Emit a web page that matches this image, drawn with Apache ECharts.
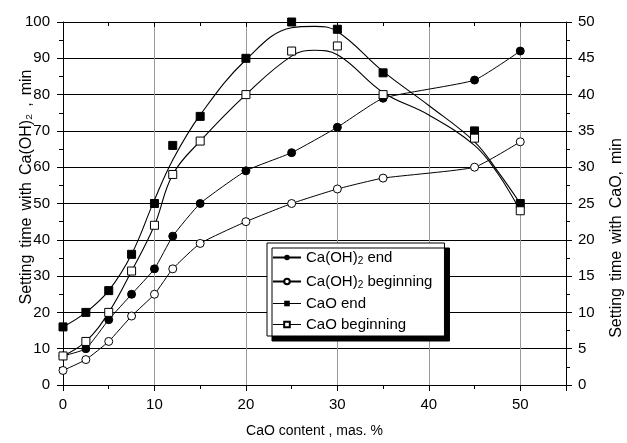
<!DOCTYPE html>
<html>
<head>
<meta charset="utf-8">
<script src="https://cdn.jsdelivr.net/npm/echarts@6/dist/echarts.min.js"></script>
<style>
html,body{margin:0;padding:0;background:#fff;}
#c{width:627px;height:443px;}
</style>
</head>
<body>
<div id="c"></div>
<script>
// CaO content (mas. %)
var xCaOH = [0, 2.5, 5, 7.5, 10, 12, 15, 20, 25, 30, 35, 45, 50];
// Setting time with Ca(OH)2, min (left axis)
var caohEnd = [8, 10, 18, 25, 32, 41, 50, 59, 64, 71, 79, 84, 92];
var caohBeg = [4, 7, 12, 19, 25, 32, 39, 45, 50, 54, 57, 60, 67];
// Setting time with CaO, min (right axis)
var xCaO = [0, 2.5, 5, 7.5, 10, 12, 15, 20, 25, 30, 35, 45, 50];
var caoEnd = [8, 10, 13, 18, 25, 33, 37, 45, 50, 49, 43, 35, 25];
var caoBeg = [4, 6, 10, 15.7, 22, 29, 33.6, 40, 46, 46.7, 40, 34, 24];
// fitted curves for CaO (right axis)
var xFit = [0, 2.5, 5, 7.5, 10, 12, 15, 20, 25, 27.5, 30, 35, 40, 45, 47.5, 50];
var caoEndFit = [8, 10, 13, 18, 25.5, 31, 37.2, 44.8, 49.2, 49.4, 48.7, 43.2, 38.5, 33.5, 29.5, 25];
var caoBegFit = [4, 6, 10, 15.7, 22, 29, 33.6, 40, 45.3, 46.1, 45.5, 40.3, 37.2, 33, 29.2, 24];
// ticks
var xTicks = {min: 0, max: 55, interval: 10};
var yLeftTicks = {min: 0, max: 100, interval: 10};
var yRightTicks = {min: 0, max: 50, interval: 5};

function zip(xs, ys) { return xs.map(function (x, i) { return [x, ys[i]]; }); }

var FONT = 'Liberation Sans';
var chart = echarts.init(document.getElementById('c'), null, {renderer: 'canvas'});

var rich = {
  a: {fontFamily: FONT, fontSize: 15, color: '#000', lineHeight: 17},
  s: {fontFamily: FONT, fontSize: 10, color: '#000', lineHeight: 17, verticalAlign: 'bottom', padding: [8, 0, 0, 0]}
};
var richTitle = {
  w: {fontFamily: FONT, fontSize: 16, color: '#000', padding: [0, 7, 0, 0]},
  a: {fontFamily: FONT, fontSize: 16, color: '#000'}
};

var option = {
  backgroundColor: '#fff',
  animation: false,
  grid: {left: 63, right: 61, top: 22, bottom: 51, containLabel: false},
  xAxis: [{
    type: 'value', position: 'bottom', min: xTicks.min, max: xTicks.max, interval: xTicks.interval,
    axisLine: {show: true, onZero: false, lineStyle: {color: '#000', width: 1}},
    axisTick: {show: true, inside: false, length: 6, lineStyle: {color: '#000'}},
    minorTick: {show: true, splitNumber: 2, length: 4, lineStyle: {color: '#000'}},
    splitLine: {show: true, lineStyle: {color: '#9a9a9a', width: 1}},
    axisLabel: {fontFamily: FONT, fontSize: 15, color: '#000', margin: 12, showMaxLabel: false},
    name: 'CaO content , mas. %', nameLocation: 'middle', nameGap: 39,
    nameTextStyle: {fontFamily: FONT, fontSize: 14, color: '#000'}
  }, {
    type: 'value', position: 'top', min: xTicks.min, max: xTicks.max, interval: xTicks.interval,
    axisLine: {show: true, onZero: false, lineStyle: {color: '#000', width: 1}},
    axisTick: {show: true, inside: true, length: 5, lineStyle: {color: '#000'}},
    minorTick: {show: true, splitNumber: 2, length: 4, lineStyle: {color: '#000'}},
    splitLine: {show: false}, axisLabel: {show: false}
  }],
  yAxis: [{
    type: 'value', position: 'left', min: yLeftTicks.min, max: yLeftTicks.max, interval: yLeftTicks.interval,
    axisLine: {show: true, onZero: false, lineStyle: {color: '#000', width: 1}},
    axisTick: {show: true, inside: false, length: 6, lineStyle: {color: '#000'}},
    minorTick: {show: true, splitNumber: 2, length: 4, lineStyle: {color: '#000'}},
    splitLine: {show: true, lineStyle: {color: '#000', width: 1}},
    axisLabel: {fontFamily: FONT, fontSize: 15, color: '#000', margin: 13}
  }, {
    type: 'value', position: 'right', min: yRightTicks.min, max: yRightTicks.max, interval: yRightTicks.interval,
    axisLine: {show: true, onZero: false, lineStyle: {color: '#000', width: 1}},
    axisTick: {show: true, inside: false, length: 6, lineStyle: {color: '#000'}},
    minorTick: {show: true, splitNumber: 2, length: 4, lineStyle: {color: '#000'}},
    splitLine: {show: false},
    axisLabel: {fontFamily: FONT, fontSize: 15, color: '#000', margin: 12}
  }],
  legend: {
    left: 267, top: 243, orient: 'vertical',
    backgroundColor: '#fff', borderColor: '#000', borderWidth: 1,
    padding: [5, 12, 4, 5], itemGap: 6, itemWidth: 28, itemHeight: 7,
    shadowColor: '#000', shadowBlur: 0, shadowOffsetX: 5, shadowOffsetY: 5,
    textStyle: {fontFamily: FONT, fontSize: 15, color: '#000', rich: rich},
    formatter: function (n) {
      if (n === 'Ca(OH)2 end') return '{a|Ca(OH)}{s|2}{a| end}';
      if (n === 'Ca(OH)2 beginning') return '{a|Ca(OH)}{s|2}{a| beginning}';
      return '{a|' + n + '}';
    },
    data: [
      {name: 'Ca(OH)2 end'},
      {name: 'Ca(OH)2 beginning'},
      {name: 'CaO end', lineStyle: {color: '#000', width: 1, opacity: 1}},
      {name: 'CaO beginning', lineStyle: {color: '#000', width: 1, opacity: 1}}
    ]
  },
  series: [{
    name: 'Ca(OH)2 end', type: 'line', xAxisIndex: 0, yAxisIndex: 0, data: zip(xCaOH, caohEnd),
    smooth: 0.15, symbol: 'circle', symbolSize: 8,
    itemStyle: {color: '#000', borderColor: '#000'}, lineStyle: {color: '#000', width: 1}, z: 3
  }, {
    name: 'Ca(OH)2 beginning', type: 'line', xAxisIndex: 0, yAxisIndex: 0, data: zip(xCaOH, caohBeg),
    smooth: 0.15, symbol: 'circle', symbolSize: 8,
    itemStyle: {color: '#fff', borderColor: '#000', borderWidth: 1}, lineStyle: {color: '#000', width: 1}, z: 3
  }, {
    name: 'CaO end', type: 'line', xAxisIndex: 0, yAxisIndex: 1, data: zip(xCaO, caoEnd),
    symbol: 'rect', symbolSize: 8,
    itemStyle: {color: '#000', borderColor: '#000'}, lineStyle: {color: '#000', width: 1, opacity: 0}, z: 4
  }, {
    name: 'CaO beginning', type: 'line', xAxisIndex: 0, yAxisIndex: 1, data: zip(xCaO, caoBeg),
    symbol: 'rect', symbolSize: 8,
    itemStyle: {color: '#fff', borderColor: '#000', borderWidth: 1}, lineStyle: {color: '#000', width: 1, opacity: 0}, z: 4
  }, {
    name: 'CaO end fit', type: 'line', xAxisIndex: 0, yAxisIndex: 1, data: zip(xFit, caoEndFit),
    smooth: 0.4, showSymbol: false, silent: true, lineStyle: {color: '#000', width: 1.1}, z: 2
  }, {
    name: 'CaO beginning fit', type: 'line', xAxisIndex: 0, yAxisIndex: 1, data: zip(xFit, caoBegFit),
    smooth: 0.4, showSymbol: false, silent: true, lineStyle: {color: '#000', width: 1.1}, z: 2
  }],
  graphic: [{
    type: 'text', x: 27, y: 187, rotation: Math.PI / 2, z: 10,
    style: {
      text: '{w|Setting}{w|time}{w|with}{w|Ca(OH)₂}{w|,}{a|min}', rich: richTitle,
      align: 'center', verticalAlign: 'middle', fill: '#000'
    }
  }, {
    type: 'text', x: 617, y: 238, rotation: Math.PI / 2, z: 10,
    style: {
      text: '{w|Setting}{w|time}{w|with}{w|CaO,}{a|min}', rich: richTitle,
      align: 'center', verticalAlign: 'middle', fill: '#000'
    }
  }]
};
chart.setOption(option);
</script>
</body>
</html>
